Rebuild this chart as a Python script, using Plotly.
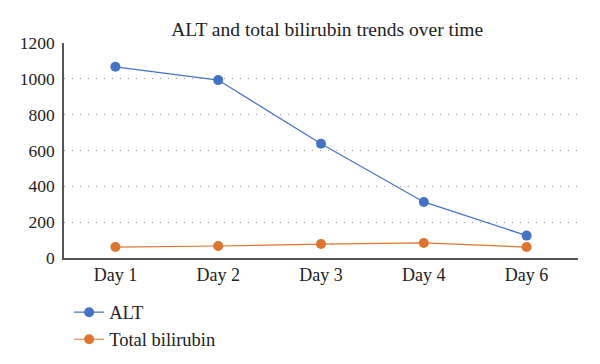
import plotly.graph_objects as go

days = ["Day 1", "Day 2", "Day 3", "Day 4", "Day 6"]
alt = [1067, 993, 638, 313, 125]
bilirubin = [61, 67, 78, 84, 61]
y_ticks = [0, 200, 400, 600, 800, 1000, 1200]

FONT = "Liberation Serif"
TXT = "#222222"

fig = go.Figure()
fig.add_trace(go.Scatter(x=days, y=alt, name="ALT", mode="lines+markers",
                         line=dict(color="#4472C4", width=1.2),
                         marker=dict(color="#4472C4", size=10)))
fig.add_trace(go.Scatter(x=days, y=bilirubin, name="Total bilirubin", mode="lines+markers",
                         line=dict(color="#DD7430", width=1.2),
                         marker=dict(color="#DD7430", size=10)))

fig.update_layout(
    width=600, height=364,
    margin=dict(l=56, r=30, t=35, b=114),
    paper_bgcolor="white", plot_bgcolor="white",
    font=dict(family=FONT, size=18, color=TXT),
    title=dict(text="ALT and total bilirubin trends over time", x=0.532, xanchor="center",
               y=0.942, yanchor="middle", font=dict(family=FONT, size=19.5, color=TXT)),
    showlegend=True,
    legend=dict(orientation="v", x=0.01, xanchor="left", y=-0.166, yanchor="top",
                font=dict(family=FONT, size=18.5, color=TXT), tracegroupgap=0,
                bgcolor="rgba(0,0,0,0)"),
    xaxis=dict(type="category", range=[-0.5, 4.5], showgrid=False, showline=True,
               linecolor="#555555", linewidth=1.5, ticks="", automargin=False,
               tickfont=dict(family=FONT, size=18, color=TXT)),
    yaxis=dict(range=[0, 1200], tickvals=y_ticks, showgrid=True, gridcolor="#999999",
               griddash="1px,7px", gridwidth=1, showline=True, linecolor="#555555", linewidth=1.5,
               ticks="", zeroline=False, automargin=False, ticklabelstandoff=4,
               tickfont=dict(family=FONT, size=17.5, color=TXT)),
)

fig.write_html("out.html")
